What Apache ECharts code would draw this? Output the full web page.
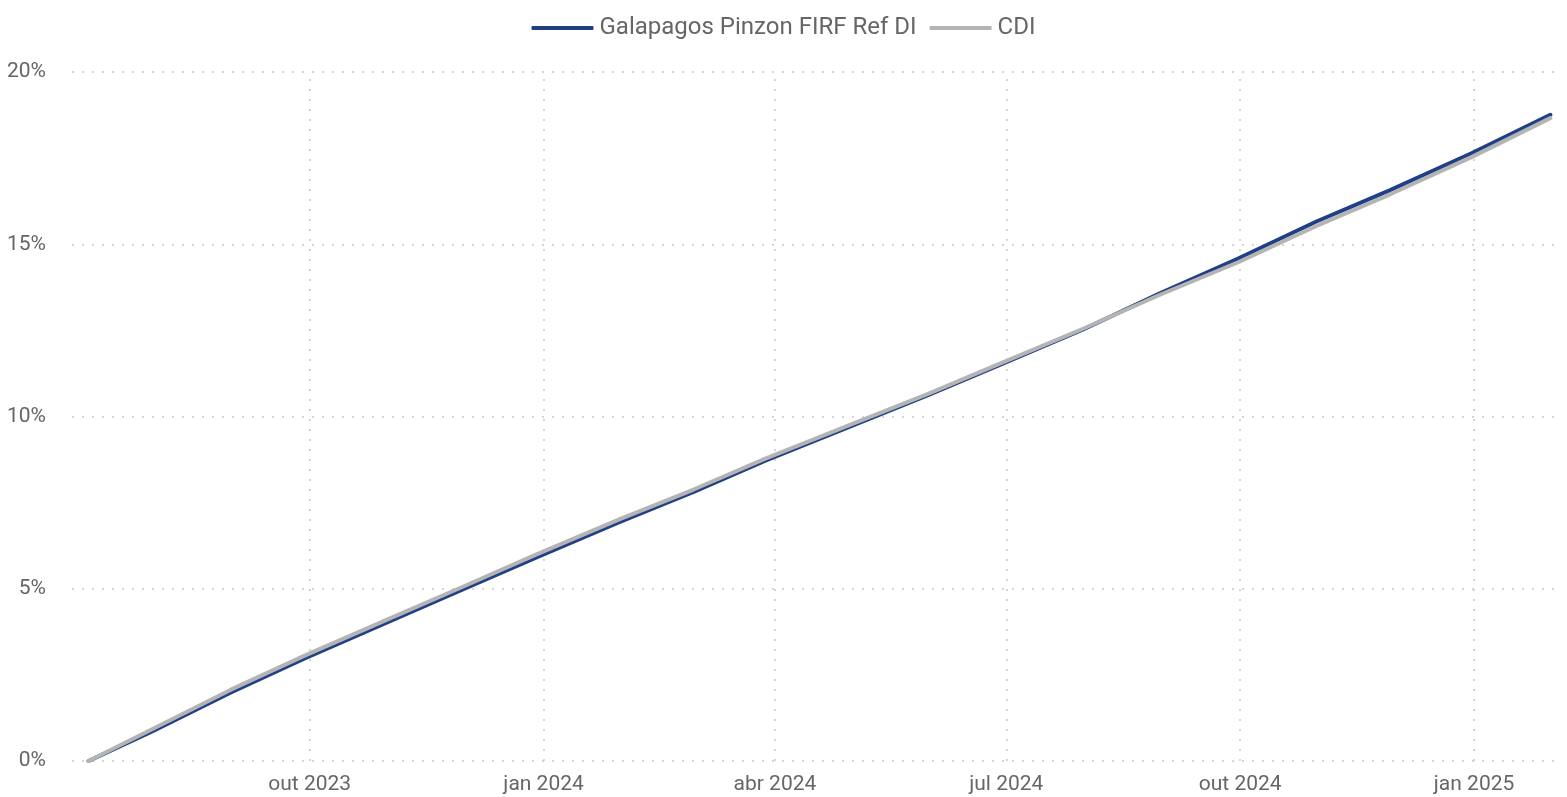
<!DOCTYPE html>
<html>
<head>
<meta charset="utf-8">
<script src="https://cdn.jsdelivr.net/npm/echarts@6/dist/echarts.min.js"></script>
<style>
  html, body { margin: 0; padding: 0; background: #fff; }
  #chart { width: 1567px; height: 797px; }
</style>
</head>
<body>
<div id="chart"></div>
<script>
// datas de fechamento (início em 06/07/2023)
const dates = [
  '2023-07-06', '2023-07-31', '2023-08-31', '2023-09-29', '2023-10-31', '2023-11-30',
  '2023-12-29', '2024-01-31', '2024-02-29', '2024-03-28', '2024-04-30', '2024-05-31',
  '2024-06-28', '2024-07-31', '2024-08-30', '2024-09-30', '2024-10-31', '2024-11-29',
  '2024-12-31', '2025-01-31'
]
// rentabilidade acumulada (%)
const fundValues = [
  0, 0.86, 1.99, 2.98, 4.01, 4.97,
  5.90, 6.94, 7.81, 8.71, 9.69, 10.61,
  11.48, 12.52, 13.56, 14.58, 15.66, 16.57,
  17.64, 18.76
]
const cdiValues = [
  0, 0.92, 2.07, 3.06, 4.09, 5.05,
  5.99, 7.02, 7.88, 8.77, 9.74, 10.65,
  11.52, 12.54, 13.52, 14.47, 15.53, 16.45,
  17.53, 18.66
]
const seriesNames = ['Galapagos Pinzon FIRF Ref DI', 'CDI']
// marcações trimestrais do eixo x
const quarterTicks = ['2023-10-01', '2024-01-01', '2024-04-01', '2024-07-01', '2024-10-01', '2025-01-01']
const monthNames = ['jan', 'fev', 'mar', 'abr', 'mai', 'jun', 'jul', 'ago', 'set', 'out', 'nov', 'dez']

const DAY = 24 * 3600 * 1000
const toTs = (d) => new Date(d + 'T00:00:00Z').getTime()
const pairs = (vals) => dates.map((d, i) => [toTs(d), vals[i]])
const tickTs = quarterTicks.map(toTs)

const textColor = '#666666'
const font = 'Roboto, "DejaVu Sans", sans-serif'
const gridLine = { color: '#c8c8c8', type: [2, 8], width: 1.5 }
const blue = '#1f3f86'
const gray = '#b4b4b4'

const chart = echarts.init(document.getElementById('chart'))
chart.setOption({
  animation: false,
  textStyle: { fontFamily: font },
  legend: {
    top: 11,
    left: 'center',
    icon: 'roundRect',
    itemWidth: 62,
    itemHeight: 4,
    itemGap: 13,
    textStyle: { fontSize: 24, color: textColor, fontFamily: font, padding: [0, 0, 0, 1] },
    data: seriesNames
  },
  grid: { left: 72, right: 7, top: 72, bottom: 36, containLabel: false },
  xAxis: {
    type: 'value',
    min: toTs('2023-06-29') + 0.5 * DAY,
    max: toTs('2025-02-03') + 0.8 * DAY,
    axisLine: { show: false },
    axisTick: { show: false },
    axisLabel: {
      customValues: tickTs,
      fontSize: 21,
      color: textColor,
      margin: 13,
      formatter: (v) => {
        const d = new Date(v)
        return monthNames[d.getUTCMonth()] + ' ' + d.getUTCFullYear()
      }
    },
    splitLine: { show: false }
  },
  yAxis: {
    type: 'value',
    min: 0,
    max: 20,
    interval: 5,
    axisLine: { show: false },
    axisTick: { show: false },
    axisLabel: { formatter: '{value}%', fontSize: 21, color: textColor, margin: 26 },
    splitLine: { show: true, lineStyle: gridLine }
  },
  series: [
    {
      name: seriesNames[0],
      type: 'line',
      data: pairs(fundValues),
      showSymbol: false,
      symbol: 'none',
      lineStyle: { color: blue, width: 4, cap: 'round', join: 'round' },
      itemStyle: { color: blue },
      z: 2,
      markLine: {
        silent: true,
        symbol: 'none',
        label: { show: false },
        lineStyle: gridLine,
        z: 1,
        data: tickTs.map((t) => ({ xAxis: t }))
      }
    },
    {
      name: seriesNames[1],
      type: 'line',
      data: pairs(cdiValues),
      showSymbol: false,
      symbol: 'none',
      lineStyle: { color: gray, width: 4, cap: 'round', join: 'round' },
      itemStyle: { color: gray },
      z: 3
    }
  ]
})
</script>
</body>
</html>
